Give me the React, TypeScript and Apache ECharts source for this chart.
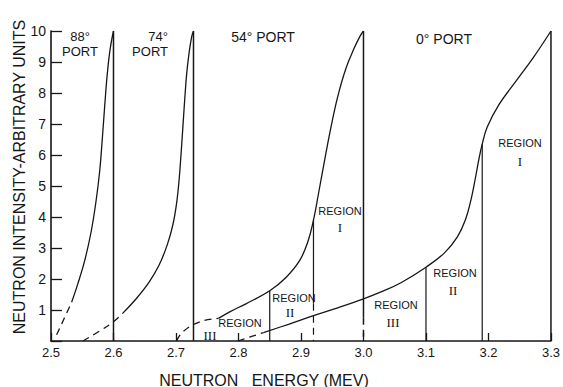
import React, { useEffect, useRef } from 'react';
import * as echarts from 'echarts';

type Pt = [number, number];

// Tick labels
const xTickLabels = ['2.5', '2.6', '2.7', '2.8', '2.9', '3.0', '3.1', '3.2', '3.3'];
const yTickLabels = ['1', '2', '3', '4', '5', '6', '7', '8', '9', '10'];

// 88° port
const port88Dashed: Pt[] = [[2.509, 0.2], [2.520, 0.68], [2.533, 1.25]];
const port88Solid: Pt[] = [
  [2.533, 1.25], [2.543, 1.85], [2.554, 2.6], [2.564, 3.5], [2.572, 4.5], [2.578, 5.5],
  [2.582, 6.5], [2.586, 7.6], [2.590, 8.6], [2.5945, 9.4], [2.600, 10],
];
// 74° port
const port74Dashed: Pt[] = [[2.551, 0], [2.58, 0.35], [2.60, 0.62], [2.615, 0.9]];
const port74Solid: Pt[] = [
  [2.615, 0.9], [2.637, 1.38], [2.657, 1.9], [2.673, 2.45], [2.686, 3.1], [2.695, 3.75],
  [2.701, 4.45], [2.705, 5.2], [2.708, 6.0], [2.711, 6.9], [2.714, 7.8], [2.717, 8.6],
  [2.721, 9.3], [2.725, 9.8], [2.728, 10],
];
// 54° port
const port54Dashed: Pt[] = [[2.701, 0], [2.711, 0.3], [2.738, 0.62], [2.768, 0.73]];
const port54Solid: Pt[] = [
  [2.768, 0.73], [2.786, 0.94], [2.812, 1.2], [2.850, 1.62], [2.876, 2.05], [2.898, 2.6],
  [2.911, 3.2], [2.920, 3.9], [2.928, 4.75], [2.938, 5.85], [2.948, 6.9], [2.959, 7.9],
  [2.972, 8.8], [2.985, 9.44], [2.995, 9.85], [3.000, 10],
];
// 0° port
const port0Dashed: Pt[] = [[2.799, 0], [2.82, 0.14], [2.84, 0.27]];
const port0Solid: Pt[] = [
  [2.84, 0.27], [2.88, 0.54], [2.92, 0.82], [2.96, 1.08], [3.00, 1.36], [3.03, 1.6],
  [3.06, 1.88], [3.10, 2.38], [3.13, 2.85], [3.150, 3.35], [3.163, 3.9], [3.172, 4.55],
  [3.179, 5.25], [3.185, 5.9], [3.190, 6.35], [3.198, 6.9], [3.217, 7.63], [3.244, 8.38],
  [3.272, 9.15], [3.300, 10],
];

// Vertical cut-off at the end of each port curve
const portEndEnergy = [2.600, 2.728, 3.000, 3.300];
const portEndTop = [10, 10, 10, 10];
const portEndSolidBottom = [0, 0, 0.75, 0];
// Region boundaries (54°: 2.85, 2.92; 0°: 3.10, 3.19)
const regionBoundEnergy = [2.85, 2.92, 3.10, 3.19];
const regionBoundTop = [1.62, 3.9, 2.38, 6.35];
const regionBoundSolidBottom = [0, 1.2, 0, 0];

const INK = '#161616';
const SANS = 'Liberation Sans, Arial, sans-serif';
const SERIF = 'Liberation Serif, Times New Roman, serif';

function curve(data: Pt[], dashed: boolean) {
  return {
    type: 'line',
    data,
    symbol: 'none',
    silent: true,
    smooth: 0.4,
    lineStyle: { color: INK, width: 1.3, type: dashed ? [7, 5] : 'solid' },
  };
}

function vline(x: number, top: number, bottom: number, dashed: boolean, width = 1.5) {
  return {
    type: 'line',
    data: [[x, top], [x, bottom]],
    symbol: 'none',
    silent: true,
    lineStyle: { color: INK, width, type: dashed ? [7, 5] : 'solid' },
  };
}

function txt(text: string, x: number, y: number, size: number, align = 'center', font = SANS) {
  return {
    type: 'text',
    x,
    y,
    silent: true,
    style: {
      text,
      fill: INK,
      font: `${size}px ${font}`,
      textAlign: align,
      textVerticalAlign: 'middle',
    },
  };
}

export default function App() {
  const ref = useRef<HTMLDivElement>(null);
  useEffect(() => {
    if (!ref.current) return;
    const chart = echarts.init(ref.current, undefined, { renderer: 'svg' });
    const series: any[] = [
      curve(port88Dashed, true), curve(port88Solid, false),
      curve(port74Dashed, true), curve(port74Solid, false),
      curve(port54Dashed, true), curve(port54Solid, false),
      curve(port0Dashed, true), curve(port0Solid, false),
    ];
    portEndEnergy.forEach((x, i) => {
      series.push(vline(x, portEndTop[i], portEndSolidBottom[i], false));
      if (portEndSolidBottom[i] > 0) series.push(vline(x, portEndSolidBottom[i], 0, true));
    });
    regionBoundEnergy.forEach((x, i) => {
      series.push(vline(x, regionBoundTop[i], regionBoundSolidBottom[i], false, 1.2));
      if (regionBoundSolidBottom[i] > 0) series.push(vline(x, regionBoundSolidBottom[i], 0, true, 1.2));
    });

    chart.setOption({
      animation: false,
      backgroundColor: '#ffffff',
      grid: { left: 51, right: 11, top: 31, bottom: 46, containLabel: false },
      xAxis: {
        type: 'value',
        min: 2.5,
        max: 3.3,
        interval: 0.1,
        axisLine: { show: true, onZero: false, lineStyle: { color: INK, width: 1.6 } },
        axisTick: { show: true, inside: true, length: 8, lineStyle: { color: INK, width: 1.3 } },
        axisLabel: {
          color: INK,
          fontSize: 13,
          fontFamily: SANS,
          margin: 5,
          showMinLabel: true,
          showMaxLabel: true,
          formatter: (v: number) => {
            const i = Math.round((v - 2.5) * 10);
            return xTickLabels[i] ?? '';
          },
        },
        splitLine: { show: false },
      },
      yAxis: {
        type: 'value',
        min: 0,
        max: 10,
        interval: 1,
        axisLine: { show: true, onZero: false, lineStyle: { color: INK, width: 1.6 } },
        axisTick: { show: true, inside: true, length: 11, lineStyle: { color: INK, width: 1.3 } },
        axisLabel: {
          color: INK,
          fontSize: 14,
          fontFamily: SANS,
          margin: 5,
          formatter: (v: number) => (v === 0 ? '' : yTickLabels[Math.round(v) - 1] ?? ''),
        },
        splitLine: { show: false },
      },
      series,
      graphic: [
        {
          type: 'text',
          x: 19,
          y: 177,
          rotation: Math.PI / 2,
          silent: true,
          style: {
            text: 'NEUTRON INTENSITY-ARBITRARY UNITS',
            fill: INK,
            font: `16px ${SANS}`,
            textAlign: 'center',
            textVerticalAlign: 'middle',
          },
        },
        txt('NEUTRON   ENERGY (MEV)', 264, 380, 16),
        txt('88°', 80, 36, 13),
        txt('PORT', 80, 51, 13),
        txt('74°', 168, 36, 13, 'right'),
        txt('PORT', 168, 51, 13, 'right'),
        txt('54° PORT', 263, 37, 14),
        txt('0° PORT', 444, 39, 14),
        txt('REGION', 340, 211, 11),
        txt('I', 340, 227, 13, 'center', SERIF),
        txt('REGION', 294, 298, 11),
        txt('II', 290, 312, 13, 'center', SERIF),
        txt('REGION', 240, 323, 11),
        txt('III', 210, 335, 13, 'center', SERIF),
        txt('REGION', 396, 305, 11),
        txt('III', 393, 322, 13, 'center', SERIF),
        txt('REGION', 455, 273, 11),
        txt('II', 453, 290, 13, 'center', SERIF),
        txt('REGION', 520, 143, 11),
        txt('I', 520, 161, 13, 'center', SERIF),
      ],
    });
    return () => chart.dispose();
  }, []);
  return (
    <div
      ref={ref}
      style={{ position: 'fixed', left: 0, top: 0, width: 563, height: 387, background: '#fff' }}
    />
  );
}
